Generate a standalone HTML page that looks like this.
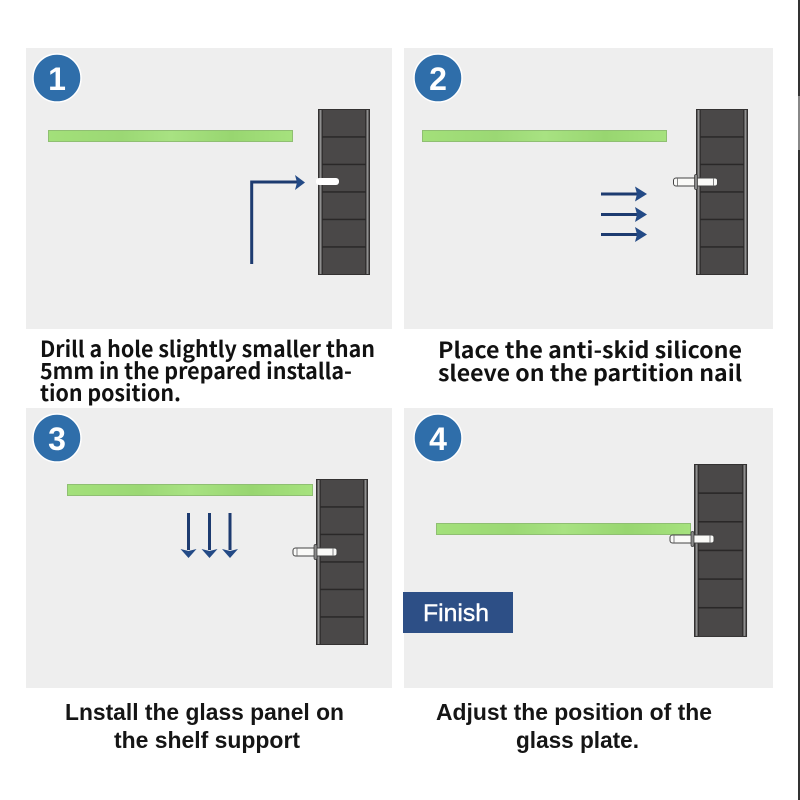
<!DOCTYPE html>
<html><head><meta charset="utf-8"><style>
html,body{margin:0;padding:0;background:#fff}
svg{display:block}
.c{font-family:"Noto Sans CJK SC","Liberation Sans",sans-serif;font-weight:700;font-size:22px;fill:#111}
.l{font-family:"Liberation Sans",sans-serif;font-weight:bold;font-size:23px;fill:#151515;text-anchor:middle}
.n{font-family:"Liberation Sans",sans-serif;font-weight:bold;font-size:32px;fill:#fff;text-anchor:middle}
</style></head><body>
<svg width="800" height="800" viewBox="0 0 800 800" xmlns="http://www.w3.org/2000/svg">
<defs>
<linearGradient id="g" x1="0" x2="1" y1="0" y2="0">
<stop offset="0" stop-color="#a3e07a"/><stop offset=".3" stop-color="#9bd874"/><stop offset=".5" stop-color="#a8e282"/><stop offset=".75" stop-color="#98d670"/><stop offset="1" stop-color="#a6e27e"/>
</linearGradient>
<g id="rack">
<rect x="0" y="0" width="52" height="166" fill="#333131"/>
<rect x="1.500" y="1" width="2" height="164" fill="#8f8f8f"/>
<rect x="48.500" y="1" width="2" height="164" fill="#8f8f8f"/>
<rect x="5" y="1" width="42" height="164" fill="#4a4848"/>
<g fill="#2a2828"><rect x="4" y="27.200" width="44" height="1.500"/><rect x="4" y="54.700" width="44" height="1.500"/><rect x="4" y="82.200" width="44" height="1.500"/><rect x="4" y="109.700" width="44" height="1.500"/><rect x="4" y="137.200" width="44" height="1.500"/></g>
</g>
<g id="nail">
<rect x="0" y="0" width="44" height="8" rx="2.500" fill="#fafaf8" stroke="#444" stroke-width="1"/>
<rect x="21" y="-3.500" width="3" height="15" rx="1.500" fill="#8a8a8a" stroke="#333" stroke-width=".7"/>
<path d="M4 0V8M40 0V8" stroke="#666" stroke-width=".8"/>
</g>
<g id="ar"><path d="M0 0H37" stroke="#1d3b70" stroke-width="3"/><path d="M34 -7.500L46 0L34 7.500L36 0Z" fill="#234a86"/></g>
<g id="ad"><path d="M0 0V37" stroke="#1d3b70" stroke-width="3"/><path d="M-8 36L0 45L8 36L0 38Z" fill="#234a86"/></g>
</defs>

<rect x="798" y="0" width="2" height="800" fill="#333"/>
<rect x="798" y="96" width="2" height="54" fill="#888"/>

<rect x="26" y="48" width="366" height="281" fill="#eeeeee"/>
<rect x="404" y="48" width="369" height="281" fill="#eeeeee"/>
<rect x="26" y="408" width="366" height="280" fill="#eeeeee"/>
<rect x="404" y="408" width="369" height="280" fill="#eeeeee"/>

<g fill="#2f6eaa" stroke="#fff" stroke-width="1.500">
<circle cx="57" cy="78" r="24"/><circle cx="438" cy="78" r="24"/><circle cx="57" cy="438" r="24"/><circle cx="438" cy="438" r="24"/>
</g>
<text class="n" x="57" y="90">1</text>
<text class="n" x="438" y="90">2</text>
<text class="n" x="57" y="450">3</text>
<text class="n" x="438" y="450">4</text>

<g stroke="#8fbf72" stroke-width="1" fill="url(#g)">
<rect x="48.500" y="130.500" width="244" height="11"/>
<rect x="422.500" y="130.500" width="244" height="11"/>
<rect x="67.500" y="484.500" width="245" height="11"/>
<rect x="436.500" y="523.500" width="254" height="11"/>
</g>

<use href="#rack" x="318" y="109"/>
<use href="#rack" x="696" y="109"/>
<use href="#rack" x="316" y="479"/>
<g transform="translate(694 464) scale(1.020 1.042)"><use href="#rack"/></g>

<rect x="316" y="178" width="23" height="7" rx="3" fill="#fff"/>
<path d="M251.700 264V182H297" fill="none" stroke="#1d3b70" stroke-width="3"/>
<path d="M295 175L305 182.500L295 190L297 182.500Z" fill="#234a86"/>

<use href="#nail" x="673.500" y="178"/>
<use href="#ar" x="601" y="194"/>
<use href="#ar" x="601" y="214.500"/>
<use href="#ar" x="601" y="234.500"/>

<use href="#nail" x="293" y="548"/>
<use href="#ad" x="188.500" y="513"/>
<use href="#ad" x="209.500" y="513"/>
<use href="#ad" x="230" y="513"/>

<use href="#nail" x="670" y="535"/>

<rect x="403" y="592" width="110" height="41" fill="#2d4f86"/>
<text x="456" y="621" font-family="Liberation Sans,sans-serif" font-size="24" fill="#fff" stroke="#fff" stroke-width=".4" text-anchor="middle" textLength="66" lengthAdjust="spacingAndGlyphs">Finish</text>

<text class="c" x="40" y="357" textLength="335" lengthAdjust="spacingAndGlyphs">Drill a hole slightly smaller than</text>
<text class="c" x="40" y="379" textLength="312" lengthAdjust="spacingAndGlyphs">5mm in the prepared installa-</text>
<text class="c" x="40" y="401" textLength="141" lengthAdjust="spacingAndGlyphs">tion position.</text>
<text class="c" x="438" y="358" textLength="304" lengthAdjust="spacingAndGlyphs">Place the anti-skid silicone</text>
<text class="c" x="438" y="381" textLength="304" lengthAdjust="spacingAndGlyphs">sleeve on the partition nail</text>

<text class="l" x="204.500" y="720" textLength="279" lengthAdjust="spacingAndGlyphs">Lnstall the glass panel on</text>
<text class="l" x="207" y="748" textLength="186" lengthAdjust="spacingAndGlyphs">the shelf support</text>
<text class="l" x="574" y="720" textLength="276" lengthAdjust="spacingAndGlyphs">Adjust the position of the</text>
<text class="l" x="577.500" y="748" textLength="123" lengthAdjust="spacingAndGlyphs">glass plate.</text>
</svg>
</body></html>
